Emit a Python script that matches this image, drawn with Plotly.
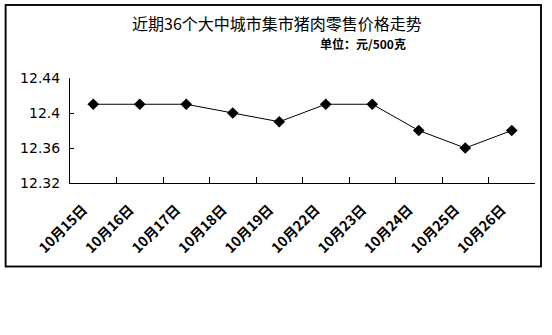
import plotly.graph_objects as go

dates = ["10月15日", "10月16日", "10月17日", "10月18日", "10月19日",
         "10月22日", "10月23日", "10月24日", "10月25日", "10月26日"]
prices = [12.41, 12.41, 12.41, 12.40, 12.39, 12.41, 12.41, 12.38, 12.36, 12.38]
y_ticks = [12.32, 12.36, 12.40, 12.44]
y_labels = ["12.32", "12.36", "12.4", "12.44"]
grid_values = [12.36, 12.40]
title_text = "近期36个大中城市集市猪肉零售价格走势"
unit_text = "单位：元/500克"

W, H = 552, 335
L, R, T, B = 69.5, 535, 78, 183
pw, ph = R - L, B - T

def px_x(x):
    return (x - L) / pw

def px_y(y):
    return (B - y) / ph

fig = go.Figure()
fig.add_trace(go.Scatter(
    x=dates, y=prices, mode="lines+markers",
    line=dict(color="black", width=1),
    marker=dict(symbol="diamond", size=9, color="black"),
    hoverinfo="skip", showlegend=False,
))

for g in grid_values:
    fig.add_hline(y=g, line=dict(color="black", width=1), layer="below")

fig.update_layout(
    width=W, height=H,
    margin=dict(l=L, r=W - R, t=T, b=H - B, pad=0),
    paper_bgcolor="white", plot_bgcolor="white",
    font=dict(family="Noto Sans CJK SC, DejaVu Sans", color="black"),
    xaxis=dict(
        type="category", showgrid=False, showline=True, linecolor="black", linewidth=1,
        ticks="inside", tickson="boundaries", ticklen=6, tickcolor="black",
        tickangle=-45, tickfont=dict(family="Noto Sans CJK SC", size=14, color="black", weight="bold"),
        ticklabelstandoff=12, ticklabelshift=-10,
        range=[-0.5, len(dates) - 0.5], zeroline=False, fixedrange=True,
    ),
    yaxis=dict(
        range=[12.32, 12.44], tickvals=y_ticks, ticktext=y_labels,
        showgrid=False, showline=True, linecolor="black", linewidth=1,
        ticks="inside", ticklen=4, tickcolor="black",
        tickfont=dict(family="DejaVu Sans", size=14, color="black"),
        ticklabelstandoff=6,
        zeroline=False, fixedrange=True,
    ),
    shapes=[dict(
        type="rect", xref="paper", yref="paper",
        x0=px_x(5), x1=px_x(541), y0=px_y(266.5), y1=px_y(5),
        line=dict(color="black", width=1.5), fillcolor="rgba(0,0,0,0)", layer="below",
    )],
    annotations=[
        dict(text=title_text, xref="paper", yref="paper", x=px_x(276.5), y=px_y(23),
             showarrow=False, xanchor="center", yanchor="middle",
             font=dict(family="Noto Sans CJK SC", size=16, color="black")),
        dict(text=unit_text, xref="paper", yref="paper", x=px_x(363), y=px_y(43),
             showarrow=False, xanchor="center", yanchor="middle",
             font=dict(family="Noto Sans CJK SC", size=12, color="black", weight="bold")),
    ],
)

fig.write_html("out.html", config={"displayModeBar": False})
